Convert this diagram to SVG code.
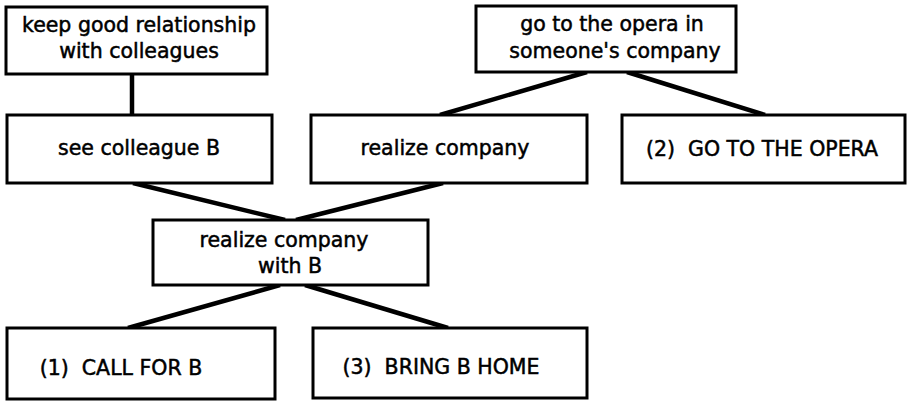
<svg xmlns="http://www.w3.org/2000/svg" width="909" height="402" viewBox="0 0 909 402">
<style>
.box{fill:#fff;stroke:#000;stroke-width:3}
.lbl{font-family:"DejaVu Sans","Liberation Sans",sans-serif;font-size:20.5px;fill:#000;stroke:#000;stroke-width:0.5;text-anchor:middle;white-space:pre}
.conn line{stroke:#000;stroke-width:4.5;stroke-linecap:butt}
</style>
<rect width="909" height="402" fill="#fff"/>
<g id="connectors" class="conn">
<line x1="132" y1="74" x2="132" y2="115"/>
<line x1="587" y1="72" x2="440" y2="115"/>
<line x1="627" y1="72" x2="765" y2="115"/>
<line x1="133" y1="183" x2="285" y2="220"/>
<line x1="443" y1="183" x2="296" y2="220"/>
<line x1="280" y1="285" x2="128" y2="328"/>
<line x1="305" y1="285" x2="448" y2="328"/>
</g>
<g id="n1">
<rect class="box" x="6" y="7" width="261" height="67"/>
<text class="lbl" x="139" y="32">keep good relationship</text>
<text class="lbl" x="139" y="58">with colleagues</text>
</g>
<g id="n2">
<rect class="box" x="476" y="6" width="260" height="66"/>
<text class="lbl" x="612" y="31">go to the opera in</text>
<text class="lbl" x="615" y="58">someone's company</text>
</g>
<g id="n3">
<rect class="box" x="7" y="115" width="265" height="68"/>
<text class="lbl" x="139" y="155">see colleague B</text>
</g>
<g id="n4">
<rect class="box" x="311" y="115" width="276" height="68"/>
<text class="lbl" x="445" y="155">realize company</text>
</g>
<g id="n5">
<rect class="box" x="622" y="115" width="283" height="68"/>
<text class="lbl" x="762" y="156" xml:space="preserve">(2)  GO TO THE OPERA</text>
</g>
<g id="n6">
<rect class="box" x="153" y="220" width="275" height="65"/>
<text class="lbl" x="284" y="247">realize company</text>
<text class="lbl" x="290" y="273">with B</text>
</g>
<g id="n7">
<rect class="box" x="7" y="328" width="268" height="71"/>
<text class="lbl" x="121" y="375" xml:space="preserve">(1)  CALL FOR B</text>
</g>
<g id="n8">
<rect class="box" x="313" y="328" width="274" height="70"/>
<text class="lbl" x="441" y="374" xml:space="preserve">(3)  BRING B HOME</text>
</g>
</svg>
